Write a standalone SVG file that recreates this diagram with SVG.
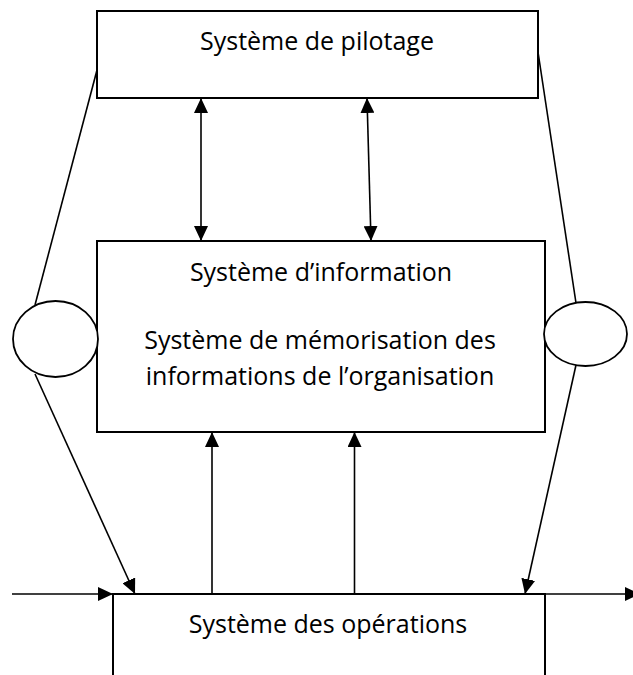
<svg xmlns="http://www.w3.org/2000/svg" width="633" height="675" viewBox="0 0 633 675">
  <style>
    .box { fill: #ffffff; stroke: #000000; stroke-width: 2; }
    .ring { fill: #ffffff; stroke: #000000; stroke-width: 1.8; }
    .wire { fill: none; stroke: #000000; stroke-width: 1.6; }
    .label { font-family: "Open Sans", "Noto Sans", "Liberation Sans", sans-serif; font-size: 25px; fill: #000000; text-anchor: middle; }
  </style>
  <defs>
    <marker id="head" viewBox="0 0 15 14" refX="15" refY="7" markerWidth="15" markerHeight="14" markerUnits="userSpaceOnUse" orient="auto-start-reverse">
      <path d="M0,0 L15,7 L0,14 z" fill="#000000"/>
    </marker>
  </defs>

  <g id="pilotage">
    <rect class="box" x="97" y="11" width="441" height="87"/>
    <text class="label" x="317" y="50">Système de pilotage</text>
  </g>

  <g id="information">
    <rect class="box" x="97" y="241" width="448" height="191"/>
    <text class="label" x="321" y="281">Système d’information</text>
    <text class="label" x="320" y="349">Système de mémorisation des</text>
    <text class="label" x="320" y="385">informations de l’organisation</text>
  </g>

  <g id="operations">
    <path class="box" fill="none" d="M113,675 V594 H545 V675" style="fill:none"/>
    <text class="label" x="328" y="633">Système des opérations</text>
  </g>

  <g id="ring-left">
    <ellipse class="ring" cx="55.5" cy="339" rx="42.5" ry="38"/>
  </g>

  <g id="ring-right">
    <ellipse class="ring" cx="585.5" cy="334" rx="41.5" ry="32"/>
  </g>

  <g id="connectors">
    <!-- pilotage <-> information -->
    <line class="wire" x1="201" y1="98" x2="201" y2="241" marker-start="url(#head)" marker-end="url(#head)"/>
    <line class="wire" x1="367" y1="98" x2="371" y2="241" marker-start="url(#head)" marker-end="url(#head)"/>
    <!-- operations -> information -->
    <line class="wire" x1="212" y1="594" x2="212" y2="432" marker-end="url(#head)"/>
    <line class="wire" x1="354.5" y1="594" x2="354.5" y2="432" marker-end="url(#head)"/>
    <!-- side loops through the rings -->
    <line class="wire" x1="97" y1="70" x2="35" y2="305"/>
    <line class="wire" x1="35" y1="374" x2="135" y2="594" marker-end="url(#head)"/>
    <line class="wire" x1="538" y1="52" x2="576" y2="303"/>
    <line class="wire" x1="576" y1="365" x2="525" y2="594" marker-end="url(#head)"/>
    <!-- flow in and out of operations -->
    <line class="wire" x1="12" y1="594" x2="113" y2="594" marker-end="url(#head)"/>
    <line class="wire" x1="545" y1="594" x2="640" y2="594" marker-end="url(#head)"/>
  </g>
</svg>
